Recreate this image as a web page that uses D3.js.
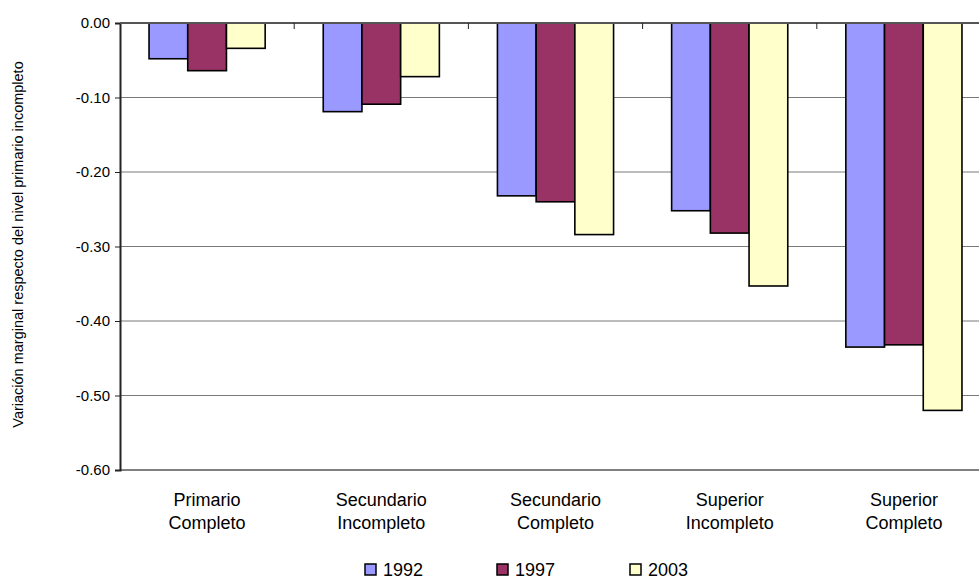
<!DOCTYPE html>
<html>
<head>
<meta charset="utf-8">
<script src="https://cdn.jsdelivr.net/npm/d3@7"></script>
<style>
  body { margin: 0; background: #fff; }
  text { font-family: "Liberation Sans", Arial, sans-serif; fill: #000; }
</style>
</head>
<body>
<svg id="chart" width="979" height="579"></svg>
<script>
// data
var categories = ["Primario Completo", "Secundario Incompleto", "Secundario Completo",
                  "Superior Incompleto", "Superior Completo"];
var years = ["1992", "1997", "2003"];
var values1992 = [-0.048, -0.119, -0.232, -0.252, -0.435];
var values1997 = [-0.064, -0.109, -0.240, -0.282, -0.432];
var values2003 = [-0.034, -0.072, -0.284, -0.353, -0.520];
var yTicks = [0, -0.1, -0.2, -0.3, -0.4, -0.5, -0.6];
var colors = ["#9999ff", "#993366", "#ffffcc"];

var series = [values1992, values1997, values2003];

var svg = d3.select("#chart");

// note: "top" is taken by window.top, so plot edges get their own names
var plotLeft = 120, plotTop = 23, plotBottom = 470, step = 174.2;

// scales
var x0 = d3.scaleBand().domain(categories).range([plotLeft, plotLeft + step * categories.length]);
var x1 = d3.scaleBand().domain(years).range([0, x0.bandwidth()]).paddingInner(0).paddingOuter(0.75);
var y = d3.scaleLinear().domain([-0.6, 0]).range([plotBottom, plotTop]);
var color = d3.scaleOrdinal().domain(years).range(colors);
var fmt = function(d) { return d3.format(".2f")(d).replace("\u2212", "-"); };

// gridlines
svg.append("g").selectAll("line").data(yTicks.filter(d => d !== 0 && d !== -0.6))
  .enter().append("line")
  .attr("x1", plotLeft).attr("x2", 979)
  .attr("y1", d => y(d)).attr("y2", d => y(d))
  .attr("stroke", "#7a7a7a").attr("stroke-width", 1);

// bottom border of plot area
svg.append("line")
  .attr("x1", plotLeft).attr("x2", 979).attr("y1", y(-0.6)).attr("y2", y(-0.6))
  .attr("stroke", "#808080").attr("stroke-width", 2);

// bars
var groups = svg.append("g").selectAll("g").data(categories).enter().append("g")
  .attr("transform", d => "translate(" + x0(d) + ",0)");

groups.selectAll("rect")
  .data((c, i) => years.map((yr, j) => ({ year: yr, value: series[j][i] })))
  .enter().append("rect")
  .attr("x", d => x1(d.year))
  .attr("width", x1.bandwidth())
  .attr("y", y(0))
  .attr("height", d => y(d.value) - y(0))
  .attr("fill", d => color(d.year))
  .attr("stroke", "#000").attr("stroke-width", 1.6);

// y axis
var yAxis = d3.axisLeft(y).tickValues(yTicks).tickFormat(fmt).tickSize(5).tickPadding(5);
var gy = svg.append("g").attr("transform", "translate(" + plotLeft + ",0)").call(yAxis);
gy.select(".domain").attr("stroke", "#222").attr("stroke-width", 2);
gy.selectAll(".tick line").attr("stroke", "#222");
gy.selectAll(".tick text").attr("font-size", "15px").attr("fill", "#111")
  .style("font-family", "'Liberation Sans', Arial, sans-serif");

// x axis along zero, ticks at category boundaries pointing down
svg.append("line")
  .attr("x1", plotLeft).attr("x2", 979).attr("y1", y(0)).attr("y2", y(0))
  .attr("stroke", "#555").attr("stroke-width", 2);
svg.append("g").selectAll("line").data(categories.slice(1))
  .enter().append("line")
  .attr("x1", d => x0(d)).attr("x2", d => x0(d))
  .attr("y1", y(0)).attr("y2", y(0) + 6)
  .attr("stroke", "#222").attr("stroke-width", 1);

// category labels (two lines)
var labels = svg.append("g").selectAll("text").data(categories).enter().append("text")
  .attr("text-anchor", "middle")
  .attr("font-size", "18px")
  .attr("transform", d => "translate(" + (x0(d) + x0.bandwidth() / 2) + ",506)");
labels.selectAll("tspan").data(d => d.split(" ")).enter().append("tspan")
  .attr("x", 0).attr("dy", (d, i) => i === 0 ? 0 : 23)
  .text(d => d);

// y axis title
svg.append("text")
  .attr("transform", "translate(23," + ((plotTop + plotBottom) / 2 - 2) + ") rotate(-90)")
  .attr("text-anchor", "middle")
  .attr("font-size", "14.5px")
  .text("Variación marginal respecto del nivel primario incompleto");

// legend
var legendX = [365, 497, 630];
var lg = svg.append("g").selectAll("g").data(years).enter().append("g")
  .attr("transform", (d, i) => "translate(" + legendX[i] + ",564)");
lg.append("rect").attr("width", 11).attr("height", 11)
  .attr("fill", d => color(d)).attr("stroke", "#000").attr("stroke-width", 1.5);
lg.append("text").attr("x", 18).attr("y", 12).attr("font-size", "18px").text(d => d);
</script>
</body>
</html>
